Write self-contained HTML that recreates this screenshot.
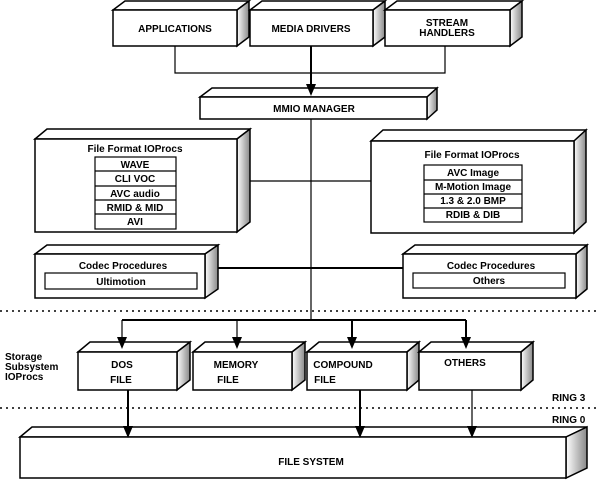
<!DOCTYPE html>
<html><head><meta charset="utf-8"><style>
html,body{margin:0;padding:0;background:#fff}
svg{display:block}
text{font-family:"Liberation Sans",sans-serif;font-weight:bold;font-size:10px;fill:#000}
</style></head><body>
<svg width="600" height="480" viewBox="0 0 600 480">
<defs>
<linearGradient id="g" x1="0" y1="0" x2="1" y2="0"><stop offset="0" stop-color="#fff"/><stop offset="1" stop-color="#888"/></linearGradient>
</defs>
<g stroke="#000" stroke-width="1.5" fill="#fff">
<!-- APPLICATIONS -->
<polygon points="113,10 125,1 249,1 237,10"/><polygon points="237,10 249,1 249,37 237,46" fill="url(#g)"/><rect x="113" y="10" width="124" height="36"/>
<!-- MEDIA DRIVERS -->
<polygon points="250,10 262,1 385,1 373,10"/><polygon points="373,10 385,1 385,37 373,46" fill="url(#g)"/><rect x="250" y="10" width="123" height="36"/>
<!-- STREAM -->
<polygon points="385,10 397,1 522,1 510,10"/><polygon points="510,10 522,1 522,37 510,46" fill="url(#g)"/><rect x="385" y="10" width="125" height="36"/>
<!-- MMIO -->
<polygon points="200,97 212,88 437,88 427,97"/><polygon points="427,97 437,88 437,110 427,119" fill="url(#g)"/><rect x="200" y="97" width="227" height="22"/>
<!-- Left FF -->
<polygon points="35,139 47,129 250,129 237,139"/><polygon points="237,139 250,129 250,222 237,232" fill="url(#g)"/><rect x="35" y="139" width="202" height="93"/>
<!-- Right FF -->
<polygon points="371,141 383,130 586,130 574,141"/><polygon points="574,141 586,130 586,222 574,233" fill="url(#g)"/><rect x="371" y="141" width="203" height="92"/>
<!-- Codec left -->
<polygon points="35,254 47,245 218,245 205,254"/><polygon points="205,254 218,245 218,289 205,298" fill="url(#g)"/><rect x="35" y="254" width="170" height="44"/>
<!-- Codec right -->
<polygon points="403,254 415,245 587,245 576,254"/><polygon points="576,254 587,245 587,289 576,298" fill="url(#g)"/><rect x="403" y="254" width="173" height="44"/>
<!-- DOS -->
<polygon points="78,352 90,342 190,342 177,352"/><polygon points="177,352 190,342 190,380 177,390" fill="url(#g)"/><rect x="78" y="352" width="99" height="38"/>
<!-- MEMORY -->
<polygon points="193,352 205,342 305,342 292,352"/><polygon points="292,352 305,342 305,380 292,390" fill="url(#g)"/><rect x="193" y="352" width="99" height="38"/>
<!-- COMPOUND -->
<polygon points="307,352 319,342 419,342 407,352"/><polygon points="407,352 419,342 419,380 407,390" fill="url(#g)"/><rect x="307" y="352" width="100" height="38"/>
<!-- OTHERS -->
<polygon points="419,352 431,342 533,342 521,352"/><polygon points="521,352 533,342 533,380 521,390" fill="url(#g)"/><rect x="419" y="352" width="102" height="38"/>
<!-- FILE SYSTEM -->
<polygon points="20,437 32,427 587,427 566,437"/><polygon points="566,437 587,427 587,468 566,478" fill="url(#g)"/><rect x="20" y="437" width="546" height="41"/>
</g>
<!-- inner tables -->
<g stroke="#000" stroke-width="1.2" fill="none">
<rect x="95" y="157" width="81" height="72"/>
<line x1="95" y1="171" x2="176" y2="171"/><line x1="95" y1="186" x2="176" y2="186"/><line x1="95" y1="200" x2="176" y2="200"/><line x1="95" y1="214" x2="176" y2="214"/>
<rect x="424" y="165" width="98" height="57"/>
<line x1="424" y1="180" x2="522" y2="180"/><line x1="424" y1="194" x2="522" y2="194"/><line x1="424" y1="208" x2="522" y2="208"/>
<rect x="45" y="273" width="152" height="16"/>
<rect x="413" y="273" width="152" height="15"/>
</g>
<!-- connectors -->
<g stroke="#000" fill="none">
<polyline points="175,46 175,73 445,73 445,46" stroke-width="1.2"/>
<line x1="311" y1="46" x2="311" y2="88" stroke-width="2"/>
<line x1="311" y1="119" x2="311" y2="320" stroke-width="1.2"/>
<line x1="250" y1="181" x2="371" y2="181" stroke-width="1.2"/>
<line x1="218" y1="268" x2="403" y2="268" stroke-width="2"/>
<line x1="0" y1="311" x2="600" y2="311" stroke-width="1.5" stroke-dasharray="2,4"/>
<line x1="0" y1="408" x2="600" y2="408" stroke-width="1.5" stroke-dasharray="2,4"/>
<line x1="122" y1="320" x2="466" y2="320" stroke-width="2"/>
<line x1="122" y1="320" x2="122" y2="340" stroke-width="1.2"/>
<line x1="237" y1="320" x2="237" y2="340" stroke-width="1.2"/>
<line x1="352" y1="320" x2="352" y2="340" stroke-width="2"/>
<line x1="466" y1="320" x2="466" y2="340" stroke-width="2"/>
<line x1="128" y1="390" x2="128" y2="428" stroke-width="2"/>
<line x1="360" y1="390" x2="360" y2="428" stroke-width="2"/>
<line x1="472" y1="390" x2="472" y2="428" stroke-width="1.2"/>
</g>
<g fill="#000">
<polygon points="306,84 316,84 311,96"/>
<polygon points="117,337 127,337 122,349"/>
<polygon points="232,337 242,337 237,349"/>
<polygon points="347,337 357,337 352,349"/>
<polygon points="461,337 471,337 466,349"/>
<polygon points="123,426 133,426 128,438"/>
<polygon points="355,426 365,426 360,438"/>
<polygon points="467,426 477,426 472,438"/>
</g>
<!-- text -->
<g text-anchor="middle">
<text x="175" y="32">APPLICATIONS</text>
<text x="311" y="32">MEDIA DRIVERS</text>
<text x="447" y="26">STREAM</text><text x="447" y="36">HANDLERS</text>
<text x="314" y="112" font-size="9">MMIO MANAGER</text>
<text x="135" y="152">File Format IOProcs</text>
<text x="135" y="168">WAVE</text>
<text x="135" y="182">CLI VOC</text>
<text x="135" y="197">AVC audio</text>
<text x="135" y="211">RMID &amp; MID</text>
<text x="135" y="225">AVI</text>
<text x="472" y="158">File Format IOProcs</text>
<text x="473" y="176">AVC Image</text>
<text x="473" y="190">M-Motion Image</text>
<text x="473" y="204">1.3 &amp; 2.0 BMP</text>
<text x="473" y="218">RDIB &amp; DIB</text>
<text x="123" y="269">Codec Procedures</text>
<text x="121" y="285">Ultimotion</text>
<text x="491" y="269">Codec Procedures</text>
<text x="489" y="284">Others</text>
<text x="122" y="368">DOS</text>
<text x="121" y="383">FILE</text>
<text x="236" y="368">MEMORY</text>
<text x="228" y="383" >FILE</text>
<text x="343" y="368">COMPOUND</text>
<text x="325" y="383">FILE</text>
<text x="465" y="366">OTHERS</text>
<text x="311" y="465" font-size="9">FILE SYSTEM</text>
</g>
<text x="5" y="360" font-size="9">Storage</text>
<text x="5" y="370" font-size="9">Subsystem</text>
<text x="5" y="380" font-size="9">IOProcs</text>
<text x="552" y="401" font-size="9">RING 3</text>
<text x="552" y="423" font-size="9">RING 0</text>
</svg>
</body></html>
